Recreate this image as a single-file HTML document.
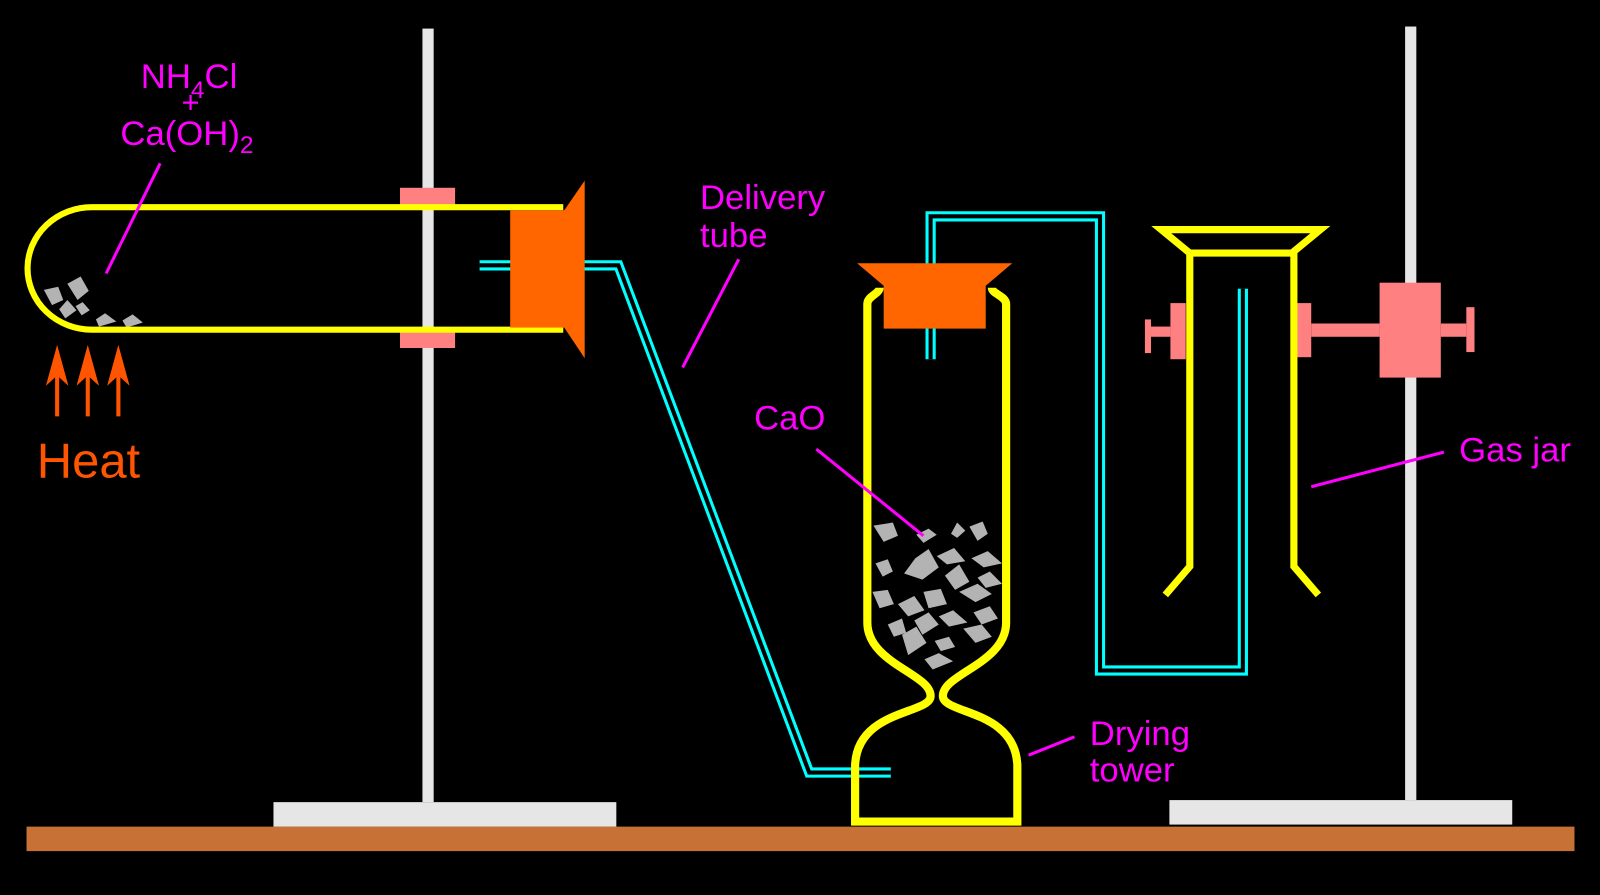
<!DOCTYPE html>
<html><head><meta charset="utf-8"><style>
html,body{margin:0;padding:0;background:#000;width:1600px;height:895px;overflow:hidden}
svg{display:block}
text{font-family:"Liberation Sans",sans-serif;fill:#ff00ff}
</style></head><body>
<svg width="1600" height="895" viewBox="0 0 1568 877" preserveAspectRatio="none">
<rect width="1568" height="877" fill="#000"/>
<rect x="26" y="810" width="1517" height="24" fill="#c87137"/>
<g fill="#e6e6e6">
<rect x="268" y="786" width="336" height="24"/><rect x="414" y="28" width="11" height="758"/></g>
<g fill="#e6e6e6">
<rect x="1146" y="784" width="336" height="24"/><rect x="1377" y="26" width="11" height="758"/></g>
<g fill="#ff8080">
<rect x="392" y="184" width="54" height="17"/><rect x="392" y="325" width="54" height="16"/></g>
<g fill="#b3b3b3">
<polygon points="43,284 57,281 62,294 51,299"/><polygon points="66,278 79,271 87,285 76,294"/>
<polygon points="58,303 66,294 75,304 64,312"/><polygon points="74,300 81,296 88,304 80,309"/>
<polygon points="94,313 103,307 114,315 97,320"/><polygon points="120,314 130,308 140,316 124,321"/></g>
<path d="M552,203 H90 A63,60 0 0 0 90,323 H552" fill="none" stroke="#ffff00" stroke-width="6"/>
<path d="M470,260 H606 L793,757 H873" fill="none" stroke="#00ffff" stroke-width="10"/>
<path d="M470,260 H606 L793,757 H873" fill="none" stroke="#000" stroke-width="4"/>
<g fill="#ff6600">
<rect x="500" y="206" width="54" height="115"/><polygon points="553,206 573,177 573,351 553,321"/></g>
<path d="M912,352 V212 H1078 V657 H1218 V283" fill="none" stroke="#00ffff" stroke-width="10"/>
<path d="M912,352 V212 H1078 V657 H1218 V283" fill="none" stroke="#000" stroke-width="4"/>
<g fill="#b3b3b3">
<polygon points="856,515 875,512 880,525 866,531"/><polygon points="898,524 910,518 918,524 905,532"/>
<polygon points="932,523 938,512 946,520 938,527"/><polygon points="950,516 963,511 968,523 958,530"/>
<polygon points="897,547 910,538 920,556 904,568 886,562"/><polygon points="918,545 935,537 946,550 928,553"/>
<polygon points="952,547 968,540 982,552 964,556"/><polygon points="858,552 870,548 875,560 865,565"/>
<polygon points="926,564 940,553 950,570 936,578"/><polygon points="940,580 958,572 972,582 956,590"/>
<polygon points="855,580 870,578 876,592 862,596"/><polygon points="880,592 896,584 906,598 890,604"/>
<polygon points="905,580 922,577 928,592 910,596"/><polygon points="896,608 910,600 920,612 904,622"/>
<polygon points="884,622 898,614 908,630 890,642"/><polygon points="920,604 934,598 948,610 930,614"/>
<polygon points="954,600 970,594 978,606 962,612"/><polygon points="944,616 962,612 972,624 956,630"/>
<polygon points="916,628 930,624 936,634 922,638"/><polygon points="906,646 920,640 934,648 914,656"/>
<polygon points="870,612 884,606 888,620 876,624"/><polygon points="958,566 970,560 982,572 966,576"/></g>
<path d="M850,298 V610 C850,650 912,660 912,682 C912,700 840,695 838,750 V805 H997 V750 C995,695 924,700 924,682 C924,660 986,650 986,610 V298 C986,290 972,288 972,282 M850,298 C850,290 862,288 862,282" fill="none" stroke="#ffff00" stroke-width="8"/>
<g fill="#ff6600">
<polygon points="840,258 992,258 966,280 866,280"/><rect x="866" y="270" width="100" height="52"/></g>
<g fill="#ff8080">
<rect x="1147" y="297" width="15" height="55"/><rect x="1122" y="313" width="6" height="33"/><rect x="1128" y="320" width="19" height="10"/>
<rect x="1270" y="297" width="15" height="53"/><rect x="1285" y="317" width="67" height="13"/><rect x="1352" y="277" width="60" height="93"/>
<rect x="1412" y="317" width="25" height="13"/><rect x="1437" y="301" width="8" height="44"/></g>
<g fill="none" stroke="#ffff00" stroke-width="7">
<polygon points="1138,225 1294,225 1266,248 1166,248"/>
<path d="M1166,248 V555 L1142,583 M1268,248 V555 L1292,583"/></g>
<g stroke="#ff00ff" stroke-width="3">
<line x1="157" y1="160" x2="104" y2="268"/><line x1="724" y1="254" x2="669" y2="360"/>
<line x1="800" y1="440" x2="905" y2="525"/><line x1="1053" y1="722" x2="1008" y2="740"/>
<line x1="1415" y1="443" x2="1285" y2="477"/></g>
<text x="138" y="86" font-size="34">NH<tspan font-size="24" dy="10">4</tspan><tspan dy="-10">Cl</tspan></text>
<text x="178" y="110" font-size="30">+</text>
<text x="118" y="142" font-size="34">Ca(OH)<tspan font-size="24" dy="8">2</tspan></text>
<text x="686" y="205" font-size="34">Delivery</text>
<text x="686" y="242" font-size="34">tube</text>
<text x="739" y="421" font-size="34">CaO</text>
<text x="1068" y="730" font-size="34">Drying</text>
<text x="1068" y="766" font-size="34">tower</text>
<text x="1430" y="452" font-size="34">Gas jar</text>
<text x="36" y="468" font-size="48" style="fill:#ff5500">Heat</text>
<g fill="#ff5500">
<rect x="54" y="360" width="4" height="48"/><polygon points="56,338 45,378 56,368 67,378"/>
<rect x="84" y="360" width="4" height="48"/><polygon points="86,338 75,378 86,368 97,378"/>
<rect x="114" y="360" width="4" height="48"/><polygon points="116,338 105,378 116,368 127,378"/></g>
</svg>
</body></html>
